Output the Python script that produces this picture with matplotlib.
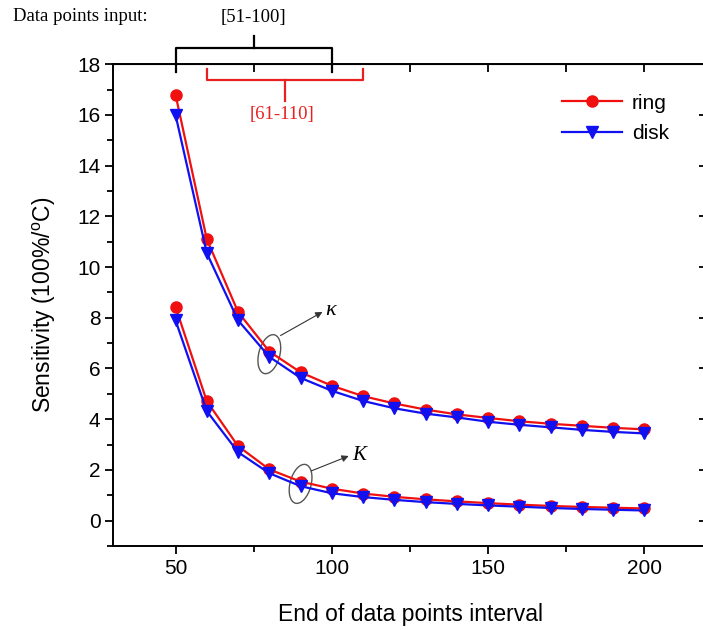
import numpy as np
import matplotlib
matplotlib.use("Agg")
import matplotlib.pyplot as plt
from matplotlib.patches import Ellipse
from matplotlib.transforms import ScaledTranslation
from matplotlib.ticker import MultipleLocator

plt.rcParams['font.family'] = ['Liberation Sans', 'DejaVu Sans']
plt.rcParams['mathtext.fontset'] = 'custom'
plt.rcParams['mathtext.rm'] = 'Liberation Sans'

# end of data points interval
x_end = [50, 60, 70, 80, 90, 100, 110, 120, 130, 140, 150, 160, 170, 180, 190, 200]

# upper family (kappa)
ring_kappa = [16.8, 11.1, 8.23, 6.67, 5.85, 5.32, 4.91, 4.62, 4.38, 4.19, 4.05, 3.92, 3.82, 3.74, 3.66, 3.60]
disk_kappa = [16.0, 10.55, 7.9, 6.46, 5.63, 5.12, 4.72, 4.43, 4.22, 4.07, 3.90, 3.78, 3.68, 3.58, 3.50, 3.44]

# lower family (K)
ring_K = [8.43, 4.71, 2.94, 2.02, 1.54, 1.26, 1.07, 0.94, 0.84, 0.76, 0.69, 0.63, 0.58, 0.54, 0.51, 0.48]
disk_K = [7.9, 4.32, 2.70, 1.87, 1.36, 1.08, 0.93, 0.82, 0.73, 0.66, 0.60, 0.55, 0.50, 0.46, 0.43, 0.40]

series_labels = ['ring', 'disk']
red = '#f01010'
blue = '#1010f0'

fig = plt.figure(figsize=(7.03, 6.3), dpi=100)
ax = fig.add_axes([113/703, 1 - 546/630, 594/703, (546 - 64.2)/630])

l1, = ax.plot(x_end, ring_kappa, color=red, lw=1.6, marker='o', ms=8, label=series_labels[0])
l2, = ax.plot(x_end, disk_kappa, color=blue, lw=1.6, marker='v', ms=8.5, label=series_labels[1])
ax.plot(x_end, ring_K, color=red, lw=1.6, marker='o', ms=8)
ax.plot(x_end, disk_K, color=blue, lw=1.6, marker='v', ms=8.5)

ax.set_xlim(30, 220)
ax.set_ylim(-1, 18)
ax.xaxis.set_major_locator(MultipleLocator(50))
ax.xaxis.set_minor_locator(MultipleLocator(25))
ax.yaxis.set_major_locator(MultipleLocator(2))
ax.yaxis.set_minor_locator(MultipleLocator(1))
ax.set_xticks([50, 100, 150, 200])
ax.tick_params(axis='both', which='major', direction='out', length=6, width=1.3, labelsize=15)
ax.tick_params(axis='both', which='minor', direction='out', length=4, width=1.3)
ax.tick_params(axis='y', which='major', pad=3)

for s in ax.spines.values():
    s.set_linewidth(1.4)

# top and right axes: inward ticks, no labels
top = ax.secondary_xaxis('top')
top.set_xticks(np.arange(50, 225, 25))
top.tick_params(direction='in', length=6, width=1.3, labeltop=False)
top.set_xticklabels([])
right = ax.secondary_yaxis('right')
right.set_yticks(np.arange(0, 18, 2))
right.tick_params(direction='in', length=6, width=1.3)
right.set_yticklabels([])

ax.set_xlabel('End of data points interval', fontsize=16.5, labelpad=18)
ax.set_ylabel('Sensitivity (100%/$^{\\mathrm{o}}$C)', fontsize=16.5, labelpad=14)

ax.legend(handles=[l1, l2], loc='upper left', bbox_to_anchor=(0.756, 0.939),
          frameon=False, fontsize=15, handlelength=2.9, handletextpad=0.45,
          labelspacing=0.55, borderpad=0, borderaxespad=0)

# ellipses around the highlighted points
for i, (ya, yb) in [(3, (ring_kappa[3], disk_kappa[3])), (4, (ring_K[4], disk_K[4]))]:
    trans = fig.dpi_scale_trans + ScaledTranslation(x_end[i], (ya + yb) / 2, ax.transData)
    ax.add_patch(Ellipse((0, 0), 0.21, 0.40, angle=-15, transform=trans,
                         fill=False, ec='#555555', lw=1.0, clip_on=False))

arrow = dict(arrowstyle='-|>', color='#333333', lw=0.8, mutation_scale=10, shrinkA=0, shrinkB=0)
ax.annotate('', xy=(97, 8.23), xytext=(83.6, 7.3), arrowprops=arrow)
ax.text(98, 8.3, '\u03ba', fontsize=16, style='italic', family=['Liberation Serif', 'DejaVu Serif'],
        va='center', ha='left')
ax.annotate('', xy=(105.4, 2.55), xytext=(93.4, 1.96), arrowprops=arrow)
ax.text(106.5, 2.55, 'K', fontsize=15, style='italic', family=['Liberation Serif', 'DejaVu Serif'],
        va='center', ha='left')

# brackets for input intervals
ax.plot([50, 50, 100, 100], [17.70, 18.63, 18.63, 17.70], color='black', lw=1.6, clip_on=False)
ax.plot([75, 75], [18.63, 19.1], color='black', lw=1.6, clip_on=False)
ax.text(75, 19.85, '[51-100]', fontsize=13.5, family='Liberation Serif', ha='center', va='center')

ax.plot([60, 60, 110, 110], [17.81, 17.38, 17.38, 17.81], color='#e82020', lw=1.6, clip_on=False)
ax.plot([85, 85], [17.38, 16.55], color='#e82020', lw=1.6, clip_on=False)
ax.text(84, 16.0, '[61-110]', fontsize=13.5, family='Liberation Serif', color='#e82020',
        ha='center', va='center')

fig.text(13/703, 1 - 16.7/630, 'Data points input:', fontsize=13.5, family='Liberation Serif',
         ha='left', va='center')

fig.savefig('out.png', dpi=100)
